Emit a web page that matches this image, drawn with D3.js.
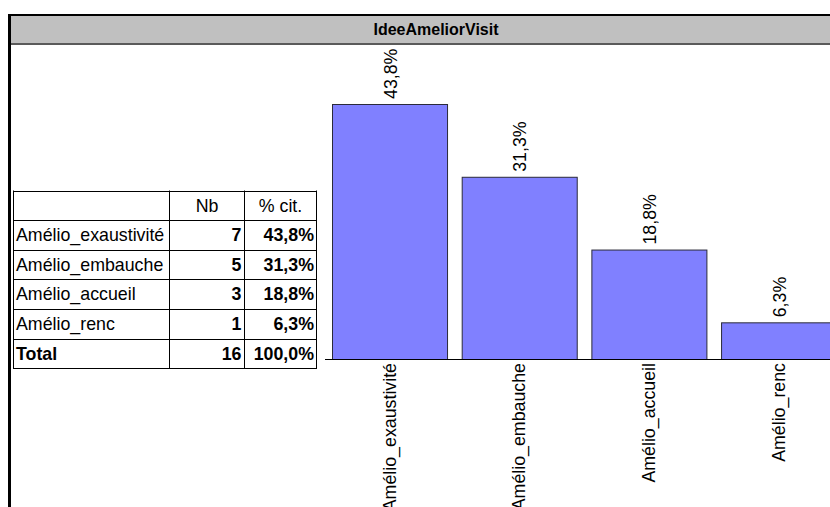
<!DOCTYPE html>
<html><head><meta charset="utf-8">
<script src="https://cdn.jsdelivr.net/npm/d3@7"></script>
<style>
body{margin:0;background:#fff;}
svg{display:block;font-family:"Liberation Sans",Arial,sans-serif;}
</style></head>
<body>
<svg id="chart" width="830" height="507"></svg>
<script>
const title = "IdeeAmeliorVisit";
const categories = ["Amélio_exaustivité","Amélio_embauche","Amélio_accueil","Amélio_renc"];
const counts = [7,5,3,1];
const percents = [43.8,31.3,18.8,6.3];
const pctLabels = ["43,8%","31,3%","18,8%","6,3%"];
const headers = ["","Nb","% cit."];
const totalRow = ["Total","16","100,0%"];

const svg = d3.select("#chart");
const W = 830, H = 507;
const FS = 17.8;

// frame
svg.append("rect").attr("x",10).attr("y",16).attr("width",W).attr("height",27).attr("fill","#c0c0c0");
svg.append("line").attr("x1",9).attr("x2",W).attr("y1",15).attr("y2",15).attr("stroke","#000").attr("stroke-width",2);
svg.append("line").attr("x1",10).attr("x2",W).attr("y1",44).attr("y2",44).attr("stroke","#5a5a5a").attr("stroke-width",2);
svg.append("line").attr("x1",9.5).attr("x2",9.5).attr("y1",14).attr("y2",H).attr("stroke","#000").attr("stroke-width",3);
svg.append("text").attr("x",436).attr("y",35).attr("text-anchor","middle")
  .attr("font-weight","bold").attr("font-size",16).attr("fill","#000").text(title);

// table
const colX = [13.5,169.5,244.5,316.5];
const rowTop = 190.5, rowH = 29.6;
const rows = [headers].concat(categories.map((c,i)=>[c,String(counts[i]),pctLabels[i]])).concat([totalRow]);
const tbl = svg.append("g");
const yRow = d3.scaleLinear().domain([0,rows.length]).range([rowTop,rowTop+rows.length*rowH]);
rows.forEach((r,ri)=>{
  tbl.append("line").attr("x1",colX[0]).attr("x2",colX[3]).attr("y1",Math.round(yRow(ri))+0.5).attr("y2",Math.round(yRow(ri))+0.5).attr("stroke","#000");
});
tbl.append("line").attr("x1",colX[0]).attr("x2",colX[3]).attr("y1",Math.round(yRow(rows.length))+0.5).attr("y2",Math.round(yRow(rows.length))+0.5).attr("stroke","#000");
colX.forEach(x=>tbl.append("line").attr("x1",x).attr("x2",x).attr("y1",rowTop).attr("y2",Math.round(yRow(rows.length))+1).attr("stroke","#000"));
rows.forEach((r,ri)=>{
  const cy = yRow(ri)+rowH/2;
  const isHead = ri===0, isTotal = ri===rows.length-1;
  tbl.append("text").attr("x",16).attr("y",cy).attr("dy","0.35em").attr("font-size",FS)
    .attr("font-weight",isTotal?"bold":"normal").text(r[0]);
  if(isHead){
    tbl.append("text").attr("x",(colX[1]+colX[2])/2).attr("y",cy).attr("dy","0.35em").attr("text-anchor","middle").attr("font-size",FS).text(r[1]);
    tbl.append("text").attr("x",(colX[2]+colX[3])/2).attr("y",cy).attr("dy","0.35em").attr("text-anchor","middle").attr("font-size",FS).text(r[2]);
  } else {
    tbl.append("text").attr("x",colX[2]-3).attr("y",cy).attr("dy","0.35em").attr("text-anchor","end").attr("font-size",FS).attr("font-weight","bold").text(r[1]);
    tbl.append("text").attr("x",colX[3]-2.5).attr("y",cy).attr("dy","0.35em").attr("text-anchor","end").attr("font-size",FS).attr("font-weight","bold").text(r[2]);
  }
});

// bars
const baseline = 359;
const x = d3.scaleBand().domain(categories).range([324.65,843.45]).paddingInner(0.113).paddingOuter(0.0567);
const y = d3.scaleLinear().domain([0,d3.max(percents)]).range([baseline,104]);
const g = svg.append("g");
g.selectAll("rect.bar").data(categories).join("rect").attr("class","bar")
  .attr("x",d=>x(d)+0.5).attr("width",x.bandwidth())
  .attr("y",(d,i)=>y(percents[i])+0.5).attr("height",(d,i)=>baseline-y(percents[i]))
  .attr("fill","#8080ff").attr("stroke","#2a2a3a").attr("stroke-width",1);
g.append("line").attr("x1",325).attr("x2",W).attr("y1",baseline+0.5).attr("y2",baseline+0.5).attr("stroke","#000");
g.selectAll("text.val").data(categories).join("text").attr("class","val")
  .attr("transform",(d,i)=>`translate(${x(d)+x.bandwidth()/2+7},${y(percents[i])-5}) rotate(-90)`)
  .attr("font-size",FS).attr("text-anchor","start").text((d,i)=>pctLabels[i]);
g.selectAll("text.cat").data(categories).join("text").attr("class","cat")
  .attr("transform",d=>`translate(${x(d)+x.bandwidth()/2+6},${baseline+4}) rotate(-90)`)
  .attr("font-size",FS).attr("text-anchor","end").text(d=>d);
</script>
</body></html>
